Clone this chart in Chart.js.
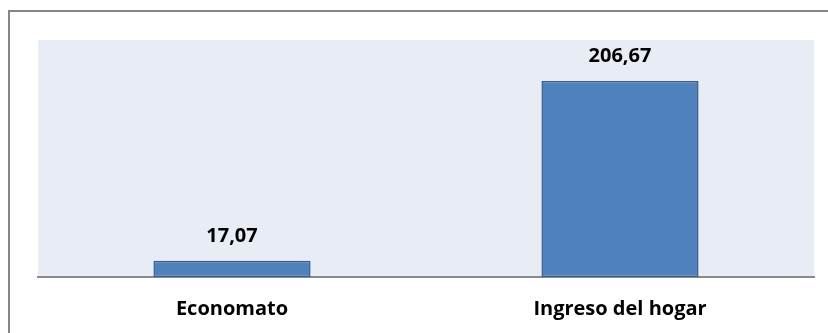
<!DOCTYPE html>
<html>
<head>
<meta charset="utf-8">
<script src="https://cdn.jsdelivr.net/npm/chart.js@4"></script>
<style>
    body { margin: 0; background: #fff; }
    #wrap { position: relative; width: 828px; height: 333px; overflow: hidden; }
    #frame {
        position: absolute; left: 8px; top: 10px; width: 840px; height: 340px;
        border-top: 2px solid #868686; border-left: 2px solid #868686;
    }
    canvas { position: absolute; left: 0; top: 0; }
</style>
</head>
<body>
<div id="wrap">
    <div id="frame"></div>
    <canvas id="myChart" width="828" height="333"></canvas>
</div>
<script>
    // Chart data
    const categories = ['Economato', 'Ingreso del hogar']
    const values = [17.07, 206.67]
    const valueLabels = ['17,07', '206,67']

    const FONT = "'Open Sans', 'Noto Sans', sans-serif"

    // Light plot area behind the bars
    const plotBackground = {
        id: 'plotBackground',
        beforeDraw(chart) {
            const { ctx, chartArea } = chart
            ctx.save()
            ctx.fillStyle = '#e8ecf4'
            ctx.fillRect(chartArea.left, chartArea.top, chartArea.right - chartArea.left, chartArea.bottom - chartArea.top)
            ctx.restore()
        }
    }

    // Value labels above each bar
    const barValues = {
        id: 'barValues',
        afterDatasetsDraw(chart) {
            const { ctx } = chart
            const meta = chart.getDatasetMeta(0)
            ctx.save()
            ctx.font = 'bold 20px ' + FONT
            ctx.fillStyle = '#000'
            ctx.textAlign = 'center'
            ctx.textBaseline = 'middle'
            meta.data.forEach(function (bar, index) {
                ctx.fillText(valueLabels[index], bar.x, bar.y - 25)
            })
            ctx.restore()
        }
    }

    let ctx = document.getElementById('myChart')
    new Chart(ctx, {
        type: 'bar',
        data: {
            labels: categories,
            datasets: [{
                data: values,
                backgroundColor: '#4f81bd',
                borderColor: '#385d8a',
                borderWidth: 1.5,
                borderSkipped: false,
                categoryPercentage: 1,
                barPercentage: 0.405
            }]
        },
        options: {
            responsive: false,
            animation: false,
            layout: {
                padding: { left: 38, right: 14, top: 40, bottom: 0 }
            },
            plugins: {
                legend: { display: false },
                tooltip: { enabled: false }
            },
            scales: {
                x: {
                    grid: { display: false, drawTicks: false },
                    border: { display: true, color: '#8a8a8a', width: 2 },
                    ticks: {
                        color: '#000',
                        padding: 20,
                        font: { family: FONT, size: 20, weight: 'bold' }
                    },
                    afterFit(scale) { scale.height = 56 }
                },
                y: {
                    display: false,
                    min: 0,
                    max: 250
                }
            }
        },
        plugins: [plotBackground, barValues]
    })
</script>
</body>
</html>
